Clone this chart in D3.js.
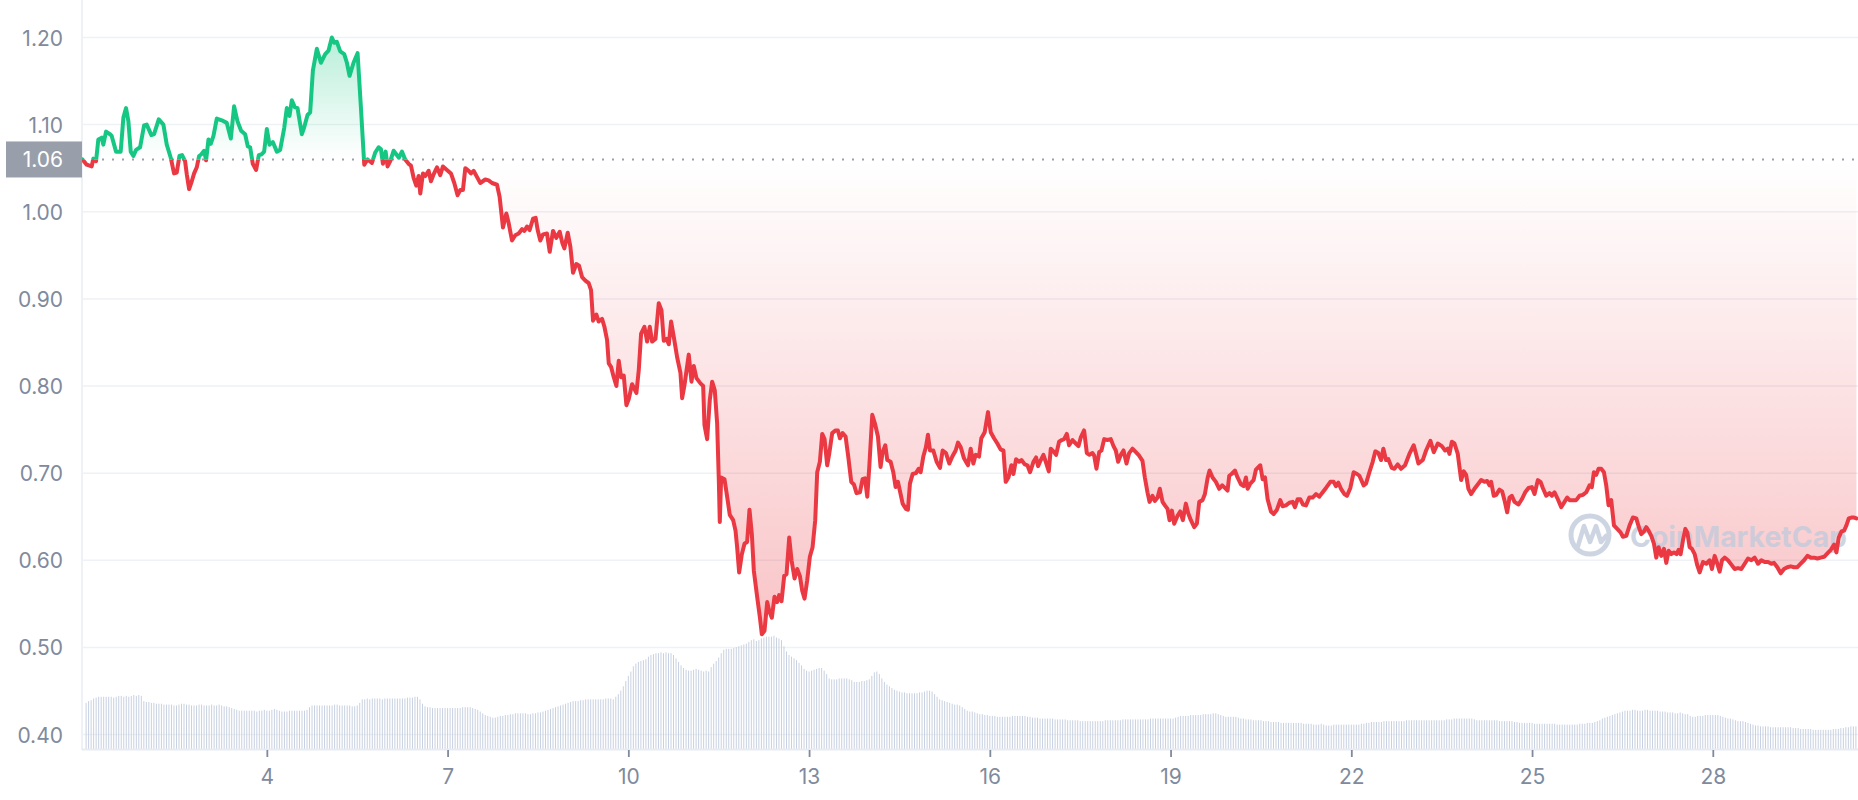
<!DOCTYPE html>
<html><head><meta charset="utf-8">
<script src="https://cdn.jsdelivr.net/npm/d3@7"></script>
<style>
html,body{margin:0;padding:0;background:#fff;}
svg{display:block;font-family:Inter,"Noto Sans",sans-serif;}
</style></head>
<body><svg id="chart" width="1858" height="800"></svg>
<script>
// ---------------- DATA ----------------
const yTicks = [0.40, 0.50, 0.60, 0.70, 0.80, 0.90, 1.00, 1.10, 1.20];
const xTicks = [4, 7, 10, 13, 16, 19, 22, 25, 28];
const baselinePrice = 1.06;
// [day of month, price USD]
const price = [
[0.94,1.060],[1.01,1.054],[1.093,1.052],[1.12,1.061],[1.165,1.058],[1.203,1.083],[1.259,1.085],[1.286,1.077],[1.331,1.092],[1.397,1.089],
[1.425,1.087],[1.497,1.069],[1.574,1.069],[1.619,1.108],[1.663,1.119],[1.702,1.104],[1.741,1.069],[1.785,1.064],[1.829,1.071],[1.896,1.074],
[1.962,1.099],[2.006,1.100],[2.084,1.088],[2.128,1.089],[2.206,1.106],[2.283,1.100],[2.339,1.077],[2.405,1.062],[2.46,1.044],[2.505,1.045],
[2.549,1.064],[2.593,1.065],[2.643,1.058],[2.671,1.043],[2.71,1.026],[2.754,1.035],[2.793,1.044],[2.837,1.051],[2.876,1.064],[2.914,1.066],
[2.959,1.070],[2.992,1.059],[3.031,1.083],[3.069,1.078],[3.114,1.087],[3.169,1.107],[3.252,1.105],[3.335,1.102],[3.402,1.084],[3.457,1.121],
[3.512,1.104],[3.573,1.093],[3.64,1.089],[3.684,1.075],[3.723,1.074],[3.767,1.055],[3.822,1.048],[3.867,1.065],[3.916,1.066],[3.955,1.069],
[4.0,1.095],[4.044,1.077],[4.099,1.080],[4.166,1.069],[4.221,1.071],[4.288,1.096],[4.332,1.119],[4.376,1.110],[4.415,1.128],[4.465,1.120],
[4.509,1.119],[4.581,1.089],[4.62,1.097],[4.675,1.111],[4.719,1.114],[4.764,1.162],[4.83,1.187],[4.897,1.171],[4.969,1.181],[5.024,1.185],
[5.079,1.200],[5.118,1.194],[5.162,1.195],[5.218,1.184],[5.284,1.181],[5.329,1.171],[5.373,1.156],[5.439,1.171],[5.506,1.182],[5.561,1.120],
[5.617,1.054],[5.672,1.060],[5.744,1.056],[5.799,1.068],[5.855,1.074],[5.893,1.072],[5.927,1.055],[5.971,1.069],[6.004,1.052],[6.048,1.058],
[6.104,1.070],[6.148,1.066],[6.192,1.062],[6.242,1.069],[6.297,1.060],[6.353,1.055],[6.392,1.053],[6.436,1.039],[6.48,1.030],[6.519,1.041],
[6.547,1.021],[6.591,1.044],[6.63,1.041],[6.685,1.047],[6.724,1.035],[6.768,1.043],[6.824,1.051],
[6.878,1.042],[6.923,1.052],[6.989,1.048],[7.056,1.044],[7.111,1.033],[7.166,1.019],[7.211,1.025],[7.255,1.025],[7.294,1.050],[7.349,1.047],
[7.388,1.044],[7.432,1.047],[7.487,1.040],[7.543,1.033],[7.626,1.037],[7.681,1.036],[7.737,1.033],[7.820,1.031],[7.864,1.017],[7.919,0.982],
[7.975,0.998],[8.014,0.987],[8.069,0.967],[8.124,0.973],[8.180,0.975],[8.235,0.980],[8.274,0.978],[8.318,0.983],[8.362,0.979],[8.418,0.992],
[8.462,0.993],[8.495,0.979],[8.539,0.967],[8.584,0.974],[8.650,0.975],[8.695,0.954],[8.750,0.978],[8.805,0.970],[8.861,0.977],[8.905,0.964],
[8.938,0.958],[8.994,0.976],[9.038,0.960],[9.082,0.930],[9.137,0.940],[9.182,0.938],[9.232,0.925],[9.287,0.921],[9.342,0.918],[9.381,0.910],
[9.414,0.875],[9.470,0.882],[9.508,0.874],[9.564,0.877],[9.603,0.868],[9.647,0.853],[9.675,0.826],[9.713,0.822],[9.758,0.810],[9.802,0.800],
[9.841,0.829],[9.880,0.810],[9.924,0.812],[9.968,0.778],[10.007,0.785],[10.062,0.802],[10.134,0.792],[10.173,0.818],[10.212,0.860],[10.267,0.868],
[10.312,0.851],[10.356,0.868],[10.395,0.851],[10.450,0.854],[10.505,0.895],[10.550,0.887],[10.588,0.852],[10.633,0.854],[10.672,0.848],[10.710,0.874],
[10.755,0.856],[10.810,0.833],
[10.865,0.815],[10.893,0.786],[10.932,0.801],[11.003,0.836],[11.048,0.805],[11.086,0.823],[11.131,0.809],[11.197,0.803],[11.242,0.800],[11.264,0.755],
[11.308,0.739],[11.352,0.784],[11.391,0.805],[11.435,0.795],[11.474,0.757],[11.502,0.692],[11.518,0.644],[11.541,0.695],[11.596,0.693],[11.640,0.673],
[11.684,0.652],[11.740,0.646],[11.779,0.634],[11.806,0.615],[11.839,0.586],[11.884,0.607],[11.928,0.619],[11.972,0.621],[12.011,0.658],[12.050,0.630],
[12.083,0.588],[12.138,0.558],[12.183,0.535],[12.216,0.515],[12.260,0.519],[12.305,0.552],[12.338,0.542],[12.382,0.534],[12.426,0.558],[12.471,0.552],
[12.504,0.560],[12.543,0.553],[12.587,0.582],[12.626,0.584],[12.670,0.626],[12.709,0.600],[12.759,0.579],[12.803,0.590],[12.847,0.582],[12.886,0.565],
[12.925,0.556],[12.969,0.577],[13.013,0.604],[13.058,0.615],[13.102,0.646],[13.135,0.701],[13.179,0.713],[13.218,0.745],[13.257,0.739],[13.301,0.709],
[13.334,0.722],[13.384,0.746],[13.440,0.749],[13.478,0.749],[13.512,0.740],[13.556,0.746],[13.606,0.742],[13.650,0.719],[13.700,0.690],[13.744,0.687],
[13.788,0.677],[13.844,0.678],[13.888,0.693],[13.927,0.694],[13.966,0.673],[13.999,0.707],[14.049,0.767],[14.093,0.757],[14.143,0.742],[14.187,0.707],
[14.220,0.724],[14.265,0.732],[14.298,0.715],[14.353,0.713],[14.398,0.701],[14.436,0.684],[14.475,0.690],[14.519,0.676],[14.553,0.665],[14.608,0.659],
[14.641,0.658],[14.674,0.688],[14.719,0.699],[14.774,0.700],[14.818,0.705],[14.852,0.701],[14.896,0.719],[14.940,0.730],[14.973,0.744],[15.007,0.726],
[15.062,0.726],[15.117,0.713],[15.173,0.706],[15.217,0.726],[15.272,0.723],[15.328,0.711],[15.378,0.719],[15.433,0.726],[15.472,0.735],[15.516,0.730],
[15.571,0.717],[15.638,0.709],[15.682,0.728],[15.727,0.711],[15.765,0.721],[15.821,0.719],[15.859,0.740],[15.915,0.747],[15.970,0.770],[16.015,0.747],
[16.070,0.740],[16.125,0.734],
[16.181,0.727],[16.226,0.726],[16.264,0.690],[16.309,0.695],[16.358,0.709],[16.392,0.699],[16.436,0.716],[16.486,0.713],[16.525,0.715],[16.580,0.710],
[16.624,0.709],[16.668,0.701],[16.724,0.713],[16.768,0.718],[16.801,0.708],[16.846,0.715],[16.890,0.721],[16.929,0.713],[16.979,0.702],[17.012,0.728],
[17.056,0.725],[17.100,0.721],[17.150,0.736],[17.194,0.738],[17.233,0.739],[17.278,0.745],[17.316,0.732],[17.372,0.738],[17.427,0.734],[17.471,0.731],
[17.510,0.741],[17.565,0.749],[17.610,0.723],[17.654,0.721],[17.704,0.723],[17.732,0.720],[17.770,0.705],[17.815,0.724],[17.853,0.726],[17.898,0.739],
[17.953,0.738],[18.008,0.739],[18.053,0.731],[18.091,0.726],[18.130,0.713],[18.175,0.721],[18.219,0.726],[18.269,0.711],[18.313,0.723],[18.368,0.728],
[18.424,0.724],[18.479,0.720],[18.534,0.714],[18.573,0.695],[18.617,0.678],[18.651,0.667],[18.700,0.674],[18.739,0.668],[18.784,0.672],[18.822,0.682],
[18.867,0.667],[18.906,0.663],[18.950,0.659],[18.983,0.646],[19.022,0.657],[19.060,0.642],[19.116,0.651],[19.160,0.656],[19.204,0.646],[19.254,0.665],
[19.293,0.654],[19.337,0.646],[19.393,0.638],[19.437,0.642],[19.476,0.667],[19.531,0.669],[19.570,0.676],[19.614,0.694],[19.647,0.703],[19.697,0.695],
[19.752,0.690],[19.808,0.682],[19.858,0.686],[19.902,0.683],[19.946,0.680],[19.974,0.697],[20.013,0.699],[20.068,0.703],[20.112,0.695],[20.168,0.687],
[20.212,0.685],[20.251,0.695],[20.279,0.682],[20.323,0.688],[20.378,0.692],[20.417,0.704],[20.489,0.709],[20.528,0.693],[20.567,0.695],[20.611,0.670],
[20.666,0.656],[20.711,0.653],[20.766,0.658],[20.821,0.669],[20.860,0.662],[20.915,0.663],[20.971,0.666],[21.026,0.667],[21.065,0.661],[21.109,0.670],
[21.153,0.670],[21.198,0.664],[21.248,0.663],[21.303,0.672],[21.358,0.672],[21.414,0.676],[21.469,0.673],[21.525,0.678],[21.580,0.683],[21.652,0.690],
[21.707,0.690],[21.746,0.685],[21.785,0.689],[21.829,0.682],[21.884,0.676],[21.929,0.674],[21.984,0.683],[22.039,0.701],[22.095,0.699],[22.134,0.697],
[22.205,0.686],[22.244,0.688],[22.300,0.701],[22.355,0.713],[22.399,0.725],[22.449,0.723],[22.493,0.715],[22.532,0.728],[22.576,0.715],[22.615,0.716],
[22.671,0.706],[22.715,0.705],[22.770,0.710],
[22.826,0.705],[22.892,0.709],[22.964,0.722],[23.036,0.732],[23.075,0.722],[23.114,0.711],[23.186,0.715],[23.241,0.726],[23.313,0.737],[23.369,0.724],
[23.435,0.734],[23.502,0.731],[23.557,0.726],[23.601,0.728],[23.629,0.722],[23.668,0.736],[23.712,0.734],[23.767,0.722],[23.795,0.707],[23.823,0.692],
[23.867,0.702],[23.906,0.698],[23.944,0.682],[23.989,0.676],[24.044,0.682],[24.099,0.687],[24.155,0.692],[24.210,0.690],[24.254,0.691],[24.293,0.686],
[24.321,0.690],[24.365,0.674],[24.404,0.675],[24.459,0.681],[24.504,0.679],[24.542,0.669],[24.587,0.655],[24.626,0.672],[24.664,0.674],[24.709,0.667],
[24.775,0.664],[24.830,0.670],[24.886,0.678],[24.941,0.683],[24.996,0.684],[25.041,0.676],[25.096,0.692],[25.140,0.690],[25.179,0.683],[25.235,0.674],
[25.290,0.677],[25.329,0.674],[25.373,0.678],[25.428,0.670],[25.484,0.661],[25.539,0.667],[25.583,0.672],[25.622,0.669],[25.678,0.669],[25.733,0.669],
[25.788,0.674],[25.844,0.675],[25.899,0.678],[25.954,0.686],[25.993,0.684],[26.026,0.701],[26.065,0.698],[26.104,0.705],[26.148,0.705],[26.193,0.701],
[26.231,0.686],[26.270,0.663],[26.314,0.669],[26.359,0.640],[26.414,0.636],[26.469,0.632],[26.508,0.627],[26.564,0.628],[26.619,0.640],[26.674,0.649],
[26.730,0.648],[26.768,0.639],[26.813,0.630],[26.857,0.633],[26.896,0.638],[26.934,0.634],[26.979,0.628],[27.023,0.619],[27.062,0.603],[27.100,0.615],
[27.145,0.605],[27.189,0.613],[27.228,0.597],[27.267,0.611],[27.311,0.607],[27.355,0.609],[27.399,0.607],[27.433,0.612],[27.466,0.607],[27.505,0.623],
[27.544,0.636],[27.577,0.632],[27.616,0.615],[27.654,0.613],[27.699,0.607],[27.743,0.594],[27.782,0.586],[27.837,0.598],[27.892,0.596],[27.948,0.600],
[27.986,0.590],[28.031,0.605],[28.075,0.596],[28.114,0.587],[28.153,0.600],[28.197,0.603],[28.252,0.600],[28.308,0.595],[28.363,0.590],[28.418,0.591],
[28.474,0.590],[28.529,0.596],[28.584,0.602],[28.640,0.600],[28.695,0.603],[28.750,0.596],[28.806,0.600],[28.861,0.598],[28.917,0.598],[28.972,0.596],
[29.016,0.597],[29.071,0.592],[29.127,0.585],[29.182,0.590],[29.237,0.592],[29.293,0.593],[29.348,0.592],[29.404,0.592],[29.459,0.596],[29.515,0.600],
[29.570,0.605],[29.625,0.603],[29.681,0.603],[29.736,0.602],[29.791,0.603],[29.847,0.604],[29.902,0.608],[29.958,0.612],[30.013,0.618],[30.052,0.609],
[30.090,0.626],[30.135,0.633],[30.179,0.634],[30.218,0.640],[30.257,0.648],[30.301,0.649],[30.345,0.649],[30.384,0.648]
];
// hourly volume bars (relative units), first bar at day 1.0
const volumeStartDay = 1.0;
const volumeStepDay = 1 / 24;
const volume = [
53,55,56,58,59,60,60,60,60,60,60,59,60,61,61,60,61,60,61,62,61,62,61,55,
54,54,53,53,52,52,52,51,51,51,51,50,50,51,52,52,51,51,50,50,50,51,51,50,
50,50,51,50,50,51,50,49,49,48,47,46,45,44,44,44,44,44,44,44,43,44,44,45,
44,44,45,46,45,44,43,43,43,44,44,44,44,44,44,44,45,48,50,50,50,50,50,50,
50,50,50,51,51,50,50,50,50,50,49,49,50,53,57,57,58,57,58,58,58,58,57,58,
58,58,58,58,58,58,58,58,59,59,59,60,60,57,52,49,48,48,47,47,47,47,47,47,
47,47,47,47,47,47,48,48,48,48,47,46,45,43,41,39,38,37,36,36,37,38,38,39,
39,40,40,41,41,41,41,41,40,40,41,41,42,42,43,44,45,46,47,48,49,50,51,52,
53,54,55,55,55,56,56,57,57,57,57,57,57,57,57,58,58,58,57,60,63,67,72,78,
84,89,95,98,100,101,102,103,106,108,109,110,110,111,110,111,110,110,108,104,100,96,93,91,
90,90,91,92,91,90,89,90,89,94,98,101,105,110,114,115,115,115,116,117,118,119,120,121,
123,125,126,124,125,127,128,129,129,129,130,128,127,125,118,112,108,106,104,102,99,96,92,90,
89,90,91,92,93,93,90,86,81,80,80,80,81,81,81,81,80,79,77,77,77,78,78,79,
80,84,88,89,86,81,77,74,72,70,68,67,66,65,65,64,64,64,64,64,65,65,66,67,
67,66,63,60,57,56,55,54,53,52,51,51,50,48,46,44,43,43,42,41,40,40,39,39,
38,38,38,37,37,37,37,37,37,38,38,38,38,38,38,37,37,36,36,36,35,35,35,35,
35,35,34,34,34,34,34,33,33,33,33,33,32,32,32,32,32,32,32,32,32,32,33,33,
33,33,33,33,33,34,34,34,34,34,34,34,34,34,34,34,35,35,35,35,35,35,35,35,
35,35,36,37,38,38,38,38,39,39,39,39,39,40,40,40,40,41,41,40,39,38,37,37,
37,37,37,36,35,35,34,34,34,33,33,33,33,32,32,32,31,31,31,31,30,30,30,30,
30,30,30,30,30,29,29,29,29,28,28,28,29,28,27,27,27,28,28,28,28,28,28,28,
28,28,28,28,29,29,30,30,31,31,31,31,31,32,32,32,32,32,32,32,32,32,33,33,
33,33,33,33,33,33,33,33,33,33,33,33,33,33,34,34,34,35,35,35,35,35,35,35,
35,34,33,33,33,33,33,33,33,33,33,32,32,32,32,32,32,31,31,30,30,30,30,30,
30,29,29,29,29,29,29,29,29,29,28,28,28,28,28,28,28,28,28,29,29,29,30,30,
30,31,32,33,35,36,37,38,39,40,41,42,43,44,44,44,45,45,44,44,44,45,45,44,
44,44,44,43,43,43,42,42,42,41,41,42,41,40,40,38,37,37,38,38,38,39,39,39,
39,39,39,38,37,36,35,35,34,33,32,32,32,31,30,29,28,27,27,26,26,26,26,25,
25,25,25,25,25,25,25,25,24,24,24,23,23,23,23,23,22,22,22,22,22,22,22,22,
23,23,23,24,24,25,25,26,26,26
];

// ---------------- LAYOUT ----------------
const W = 1858, H = 800, L = 82, R = 1858, B = 749;
const svg = d3.select('#chart');
const x = d3.scaleLinear().domain([0.932, 30.41]).range([L, R]);
const y = d3.scaleLinear().domain([0.38336, 1.24304]).range([B, 0]);
const yVol = d3.scaleLinear().domain([0, 860]).range([B, 0]);
const textColor = '#808a9d';
const green = '#16c784', red = '#ea3943';
const yBase = y(baselinePrice);

const defs = svg.append('defs');
defs.append('clipPath').attr('id', 'clipUp').append('rect')
  .attr('x', 0).attr('y', 0).attr('width', W).attr('height', yBase);
defs.append('clipPath').attr('id', 'clipDown').append('rect')
  .attr('x', 0).attr('y', yBase).attr('width', W).attr('height', H - yBase);
const maxP = d3.max(price, d => d[1]), minP = d3.min(price, d => d[1]);
const gUp = defs.append('linearGradient').attr('id', 'gUp').attr('gradientUnits', 'userSpaceOnUse')
  .attr('x1', 0).attr('x2', 0).attr('y1', y(maxP)).attr('y2', yBase);
gUp.append('stop').attr('offset', 0).attr('stop-color', green).attr('stop-opacity', 0.3);
gUp.append('stop').attr('offset', 1).attr('stop-color', green).attr('stop-opacity', 0);
const gDn = defs.append('linearGradient').attr('id', 'gDn').attr('gradientUnits', 'userSpaceOnUse')
  .attr('x1', 0).attr('x2', 0).attr('y1', yBase).attr('y2', y(minP));
gDn.append('stop').attr('offset', 0).attr('stop-color', red).attr('stop-opacity', 0);
gDn.append('stop').attr('offset', 1).attr('stop-color', red).attr('stop-opacity', 0.3);

// gridlines
svg.append('g').selectAll('line').data(yTicks).join('line')
  .attr('x1', L).attr('x2', R).attr('y1', d => y(d)).attr('y2', d => y(d))
  .attr('stroke', '#eef1f5').attr('stroke-width', 1.5);

// volume bars
svg.append('g').selectAll('rect').data(volume).join('rect')
  .attr('x', (d, i) => x(volumeStartDay + i * volumeStepDay) - 0.5)
  .attr('width', 1)
  .attr('y', d => yVol(d))
  .attr('height', d => B - yVol(d))
  .attr('fill', '#c8d1e1');

// axis lines
svg.append('line').attr('x1', L).attr('x2', L).attr('y1', 0).attr('y2', B + 1)
  .attr('stroke', '#eef1f5').attr('stroke-width', 2);
svg.append('line').attr('x1', L).attr('x2', R).attr('y1', B + 0.5).attr('y2', B + 0.5)
  .attr('stroke', '#e8ecf1').attr('stroke-width', 2);

// area fills
const area = d3.area().x(d => x(d[0])).y0(yBase).y1(d => y(d[1]));
svg.append('path').datum(price).attr('d', area).attr('fill', 'url(#gUp)').attr('clip-path', 'url(#clipUp)');
svg.append('path').datum(price).attr('d', area).attr('fill', 'url(#gDn)').attr('clip-path', 'url(#clipDown)');

// watermark
const wm = svg.append('g').attr('opacity', 0.8);
wm.append('circle').attr('cx', 1590).attr('cy', 535).attr('r', 19)
  .attr('fill', 'none').attr('stroke', '#c3cbdb').attr('stroke-width', 5);
wm.append('path').attr('d', 'M1578,546 L1584,526 L1590,542 L1596,526 L1601,542 L1606,536')
  .attr('fill', 'none').attr('stroke', '#c3cbdb').attr('stroke-width', 4.5)
  .attr('stroke-linejoin', 'round').attr('stroke-linecap', 'round');
wm.append('text').attr('x', 1630).attr('y', 547).text('CoinMarketCap')
  .attr('font-size', 29).attr('font-weight', 700).attr('fill', '#c3cbdb')
  .attr('textLength', 217).attr('lengthAdjust', 'spacingAndGlyphs');

// baseline dotted line
svg.append('line').attr('x1', L).attr('x2', R).attr('y1', yBase).attr('y2', yBase)
  .attr('stroke', '#9aa1ad').attr('stroke-width', 2).attr('stroke-dasharray', '2 8');

// price line (green above baseline, red below)
const line = d3.line().x(d => x(d[0])).y(d => y(d[1]));
[['clipUp', green], ['clipDown', red]].forEach(([clip, col]) => {
  svg.append('path').datum(price).attr('d', line)
    .attr('fill', 'none').attr('stroke', col).attr('stroke-width', 4)
    .attr('stroke-linejoin', 'round').attr('stroke-linecap', 'round')
    .attr('clip-path', `url(#${clip})`);
});

// y axis
const yAxis = d3.axisLeft(y).tickValues(yTicks).tickFormat(d3.format('.2f')).tickSize(0).tickPadding(19);
const gy = svg.append('g').attr('transform', `translate(${L},0)`).call(yAxis);
gy.select('.domain').remove();
gy.selectAll('text').attr('fill', textColor).attr('font-size', 21).attr('dy', '0.36em')
  .attr('font-family', 'Inter,"Noto Sans",sans-serif');

// x axis
const xAxis = d3.axisBottom(x).tickValues(xTicks).tickFormat(d3.format('d')).tickSize(7).tickPadding(12);
const gx = svg.append('g').attr('transform', `translate(0,${B + 1})`).call(xAxis);
gx.select('.domain').remove();
gx.selectAll('line').attr('stroke', textColor).attr('stroke-width', 1.8);
gx.selectAll('text').attr('fill', textColor).attr('font-size', 21)
  .attr('font-family', 'Inter,"Noto Sans",sans-serif');

// baseline price label
svg.append('rect').attr('x', 6).attr('y', yBase - 18).attr('width', L - 6).attr('height', 36)
  .attr('fill', '#989fab');
svg.append('text').attr('x', L - 19).attr('y', yBase).attr('dy', '0.36em')
  .attr('text-anchor', 'end').attr('fill', '#ffffff').attr('font-size', 21)
  .text(d3.format('.2f')(baselinePrice));
</script>
</body></html>
